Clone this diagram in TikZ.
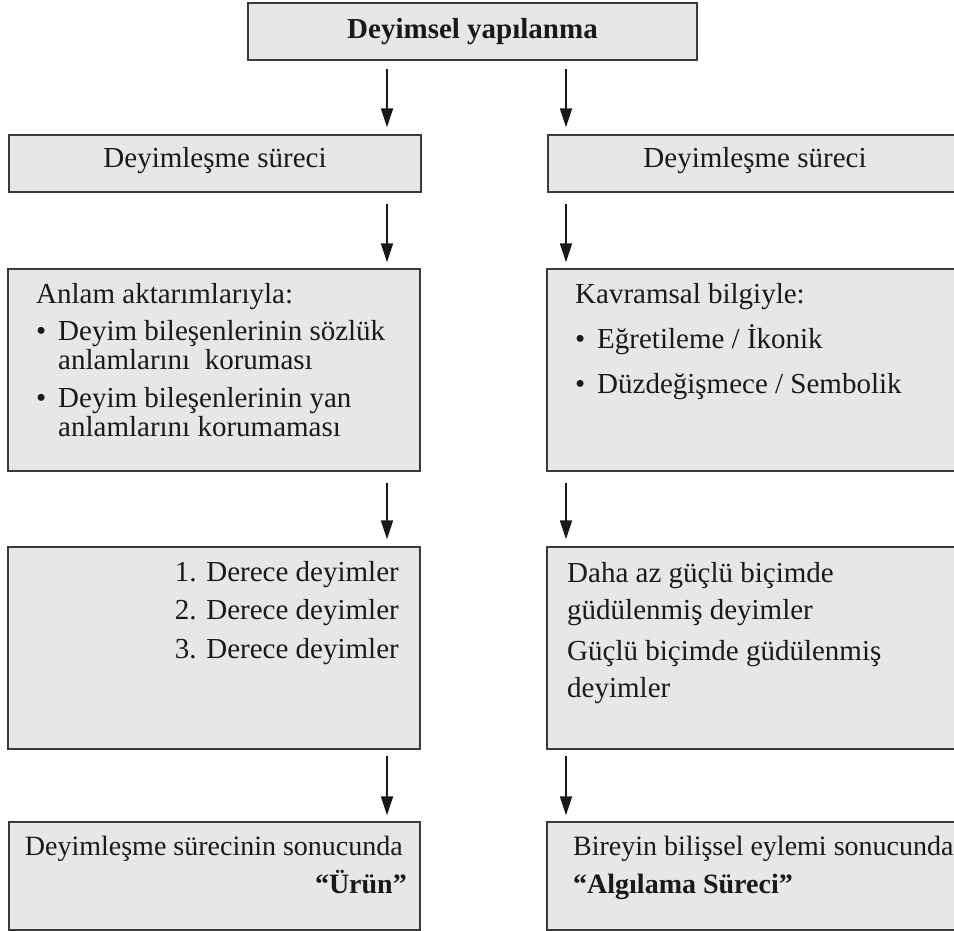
\documentclass[tikz,border=0pt]{standalone}
\usepackage{fontspec}
\setmainfont{Liberation Serif}
\usetikzlibrary{arrows.meta}
\definecolor{boxfill}{HTML}{E6E7E8}
\definecolor{boxline}{HTML}{3A3A3A}
\begin{document}
\begin{tikzpicture}[x=1pt,y=-1pt,
  box/.style={draw=boxline, line width=1.3pt, fill=boxfill, rectangle, inner sep=0pt},
  txt/.style={inner sep=0pt, font=\fontsize{29}{35}\selectfont, text=black!90},
  stxt/.style={inner sep=0pt, font=\fontsize{28}{34}\selectfont, text=black!90},
  btxt/.style={inner sep=0pt, font=\fontsize{29}{35}\selectfont\bfseries, text=black!90},
  sbtxt/.style={inner sep=0pt, font=\fontsize{28}{34}\selectfont\bfseries, text=black!90},
  arr/.style={line width=1.6pt, black!90, -{Triangle[width=12pt,length=19pt]}}]
\useasboundingbox (0,0) rectangle (954,931);
\clip (0,0) rectangle (954,931);
% boxes
\node[box, minimum width=449pt, minimum height=57pt] (top) at (472.5,31.5) {};
\node[box, minimum width=412pt, minimum height=57pt] (L2) at (215,163.5) {};
\node[box, minimum width=414pt, minimum height=57pt] (R2) at (755,163.5) {};
\node[box, minimum width=412pt, minimum height=202pt] (L3) at (214,370) {};
\node[box, minimum width=414pt, minimum height=202pt] (R3) at (754,370) {};
\node[box, minimum width=412pt, minimum height=202pt] (L4) at (214,648) {};
\node[box, minimum width=414pt, minimum height=202pt] (R4) at (754,648) {};
\node[box, minimum width=411pt, minimum height=108pt] (L5) at (214.5,876) {};
\node[box, minimum width=414pt, minimum height=108pt] (R5) at (754,876) {};
% arrow columns
\coordinate (xl) at (387,0);
\coordinate (xr) at (566,0);
\draw[arr, shorten <=8pt, shorten >=7pt] (top.south -| xl) -- (L2.north -| xl);
\draw[arr, shorten <=8pt, shorten >=7pt] (top.south -| xr) -- (R2.north -| xr);
\draw[arr, shorten <=11pt, shorten >=6pt] (L2.south -| xl) -- (L3.north -| xl);
\draw[arr, shorten <=11pt, shorten >=6pt] (R2.south -| xr) -- (R3.north -| xr);
\draw[arr, shorten <=11pt, shorten >=7pt] (L3.south -| xl) -- (L4.north -| xl);
\draw[arr, shorten <=11pt, shorten >=7pt] (R3.south -| xr) -- (R4.north -| xr);
\draw[arr, shorten <=6pt, shorten >=6pt] (L4.south -| xl) -- (L5.north -| xl);
\draw[arr, shorten <=6pt, shorten >=6pt] (R4.south -| xr) -- (R5.north -| xr);
% texts
\node[btxt, anchor=base] (t0) at (472.5,39) {Deyimsel yapılanma};
\node[txt, anchor=base] (t1) at (215,168) {Deyimleşme süreci};
\node[txt, anchor=base] (t2) at (755,168) {Deyimleşme süreci};
% L3
\node[txt, anchor=base west] (a1) at (36,303) {Anlam aktarımlarıyla:};
\node[txt, anchor=base west] (a2b) at (36,340) {•};
\node[txt, anchor=base west] (a2) at (58,340) {Deyim bileşenlerinin sözlük};
\node[txt, anchor=base west] (a3) at (58,369) {anlamlarını\ \ koruması};
\node[txt, anchor=base west] (a4b) at (36,407) {•};
\node[txt, anchor=base west] (a4) at (58,407) {Deyim bileşenlerinin yan};
\node[txt, anchor=base west] (a5) at (58,436) {anlamlarını korumaması};
% R3
\node[txt, anchor=base west] (k1) at (575,303) {Kavramsal bilgiyle:};
\node[txt, anchor=base west] (k2b) at (575,348) {•};
\node[txt, anchor=base west] (k2) at (597,348) {Eğretileme / İkonik};
\node[txt, anchor=base west] (k3b) at (575,393) {•};
\node[txt, anchor=base west] (k3) at (597,393) {Düzdeğişmece / Sembolik};
% L4
\node[txt, anchor=base east] (d1) at (399,581) {1. Derece deyimler};
\node[txt, anchor=base east] (d2) at (399,619) {2. Derece deyimler};
\node[txt, anchor=base east] (d3) at (399,658) {3. Derece deyimler};
% R4
\node[txt, anchor=base west] (g1) at (567,582) {Daha az güçlü biçimde};
\node[txt, anchor=base west] (g2) at (567,619) {güdülenmiş deyimler};
\node[txt, anchor=base west] (g3) at (567,660) {Güçlü biçimde güdülenmiş};
\node[txt, anchor=base west] (g4) at (567,697) {deyimler};
% L5
\node[stxt, anchor=base east] (s1) at (403,855) {Deyimleşme sürecinin sonucunda};
\node[sbtxt, anchor=base east] (s2) at (407,893) {“Ürün”};
% R5
\node[stxt, anchor=base west] (b1) at (573,855) {Bireyin bilişsel eylemi sonucunda};
\node[sbtxt, anchor=base west] (b2) at (573,893) {“Algılama Süreci”};
\end{tikzpicture}
\end{document}
